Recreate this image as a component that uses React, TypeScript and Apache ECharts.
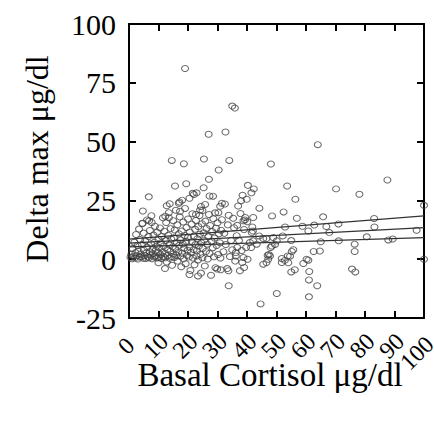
import React, { useEffect, useRef } from "react";
import * as echarts from "echarts";

const xTicks = [0, 10, 20, 30, 40, 50, 60, 70, 80, 90, 100];
const yTicks = [-25, 0, 25, 50, 75, 100];

// regression line and its two bands: [x, y] at both ends
const upperBand: [number, number][] = [[0, 8.5], [100, 18.4]];
const fitLine: [number, number][] = [[0, 6.8], [100, 13.4]];
const lowerBand: [number, number][] = [[0, 5.2], [100, 9.2]];

// sparse / outlying points
const sparsePoints: [number, number][] = [
  [19.0, 81.1], [35.0, 65.1], [35.9, 64.3], [27.0, 53.1], [32.7, 54.1], [64.0, 48.7],
  [14.5, 42.0], [18.6, 40.6], [25.4, 42.6], [34.0, 42.0], [48.1, 40.5], [30.4, 37.9],
  [87.6, 33.7], [19.4, 32.1], [25.3, 30.4], [27.1, 34.0], [15.6, 31.1], [40.3, 31.4],
  [42.3, 29.9], [41.5, 28.2], [53.6, 31.1], [70.2, 29.9], [78.1, 27.6], [27.3, 26.9],
  [21.6, 28.0], [20.5, 25.9], [6.7, 26.5], [13.8, 23.6], [17.1, 24.3], [18.0, 25.1],
  [32.5, 23.5], [38.5, 27.2], [38.0, 24.9], [37.0, 22.6], [39.9, 25.5], [56.4, 25.5],
  [100, 22.9], [44.2, 21.7], [52.4, 20.1], [4.7, 20.5], [24.4, 22.4], [24.9, 20.7],
  [56.9, 17.4], [48.5, 18.4], [65.8, 18.0], [83.1, 17.3], [83.2, 13.7], [71.0, 15.0],
  [58.8, 14.0], [60.8, 12.0], [62.8, 14.5], [66.9, 13.9], [67.9, 11.3], [52.9, 13.7],
  [42.1, 17.7], [41.8, 13.7], [97.5, 12.3], [80.6, 9.5], [87.9, 8.2], [89.4, 8.6],
  [71.1, 7.8], [55.0, 7.9], [65.0, 7.4], [76.5, 6.4], [76.5, 3.3], [62.6, 3.3],
  [64.7, 3.5], [60.8, -0.4], [60.2, 0.0], [75.6, -4.2], [76.7, -5.4], [61.1, -5.2],
  [61.0, -8.8], [63.8, -11.3], [61.0, -16.0], [50.1, -14.6], [44.6, -19.0], [33.8, -11.3],
  [55.0, -5.4], [56.2, -4.5], [59.1, -1.8], [51.8, -1.4], [51.8, 0.3], [52.8, -0.5],
  [54.0, -1.5], [54.6, 1.3], [47.0, 1.7], [47.4, 2.0], [47.8, 1.4], [45.5, -2.1],
  [48.0, 5.0], [48.4, 5.6], [49.5, 6.3], [53.8, 1.4], [55.2, 3.3], [55.7, 4.0],
  [100, 0], [38.4, -1.4], [39.0, -3.5], [40.2, 0], [29.9, -4.2], [31.1, -4.5],
  [33.3, -4.0], [37.6, -4.9], [33.7, -4.9], [20.5, -6.5], [23.4, -7.1], [12.2, -4.0],
];

// middle-density points
const midPoints: [number, number][] = [
  [30.3, 19.8], [31.5, 23.8], [33.8, 18.7], [31.2, 12.3], [35.6, 13.4], [36.7, 14.4],
  [38.8, 16.3], [39.4, 17.7], [39.3, 16.7], [40.1, 15.9], [39.7, 5.0], [43.3, 6.4],
  [44.1, 9.9], [41.4, 5.0], [41.6, 11.3], [42.0, 12.0], [36.7, 5.0], [35.0, 4.0],
  [36.2, 2.8], [36.2, 1.4], [45.5, 8.8], [46.6, 8.8], [48.9, 9.2], [50.1, 7.8],
  [52.1, 9.9], [41.0, 7.1], [42.1, 7.8], [38.8, 0.7], [46.6, -1.4], [47.2, 0.0],
  [32.0, 3.2], [32.3, 11.0], [32.8, 6.2], [33.5, 14.6], [34.2, 1.1], [34.6, 8.0],
  [35.3, 17.4], [36.0, -0.8], [36.5, 10.0], [37.3, 7.9], [37.8, 19.4], [38.2, 3.7],
  [39.0, 12.6], [31.0, 0.5], [31.5, 16.8],
];

// dense cluster at low cortisol
const clusterPoints: [number, number][] = [
  [0.5, 0.8], [0.8, 2.1], [1.0, 0.2], [1.2, 4.5], [1.5, 1.3], [1.8, 7.2], [2.0, 0.5],
  [2.2, 2.8], [2.4, 10.5], [2.6, 1.6], [2.9, 5.8], [3.0, 0.1], [3.2, 3.5], [3.4, 12.8],
  [3.6, 0.9], [3.8, 8.4], [4.0, 2.2], [4.2, 1.0], [4.4, 6.3], [4.6, 15.2], [4.8, 0.4],
  [5.0, 3.9], [5.0, 11.1], [5.3, 1.5], [5.5, 7.8], [5.7, 0.3], [5.9, 2.7], [6.1, 16.7],
  [6.2, 5.1], [6.4, 1.0], [6.6, 9.6], [6.8, 0.6], [7.0, 3.2], [7.1, 12.2], [7.3, 1.8],
  [7.5, 6.6], [7.6, 18.5], [7.8, 0.2], [8.0, 4.3], [8.1, 2.4], [8.3, 10.3], [8.5, 0.9],
  [8.6, 7.2], [8.8, 14.0], [9.0, 1.4], [9.1, 3.8], [9.3, 5.5], [9.5, 0.5], [9.6, 11.5],
  [9.8, 2.9], [10.0, 8.4], [10.0, -1.5], [10.2, 0.8], [10.3, 4.8], [10.5, 13.3],
  [10.7, 1.9], [10.8, 6.9], [11.0, 0.3], [11.1, 9.7], [11.3, 3.1], [11.5, 17.6],
  [11.6, 1.2], [11.8, 5.6], [12.0, 11.9], [12.1, 0.6], [12.3, 2.5], [12.5, 7.9],
  [12.6, 15.6], [12.8, -1.2], [13.0, 4.1], [13.1, 1.6], [13.3, 10.2], [13.5, 19.8],
  [13.6, 6.1], [13.8, 0.4], [14.0, 3.4], [14.1, 13.0], [14.3, 8.6], [14.5, 1.1],
  [14.6, -2.6], [14.8, 5.3], [15.0, 16.4], [15.0, 2.2], [15.2, 9.1], [15.4, 0.7],
  [15.5, 12.4], [15.7, 4.4], [15.9, 20.8], [16.0, 1.8], [16.2, 7.1], [16.4, 14.6],
  [16.5, -0.8], [16.7, 3.0], [16.9, 10.8], [17.0, 5.9], [17.2, 18.0], [17.4, 1.3],
  [17.5, 8.2], [17.7, -3.2], [17.9, 12.0], [18.0, 2.6], [18.2, 6.5], [18.4, 15.8],
  [18.5, 0.2], [18.7, 4.7], [18.9, 10.1], [19.0, 21.6], [19.2, -1.9], [19.4, 7.6],
  [19.5, 13.5], [19.7, 1.7], [19.9, 3.8], [20.0, 17.1], [20.0, 9.3], [20.3, 0.9],
  [20.5, 5.2], [20.6, 11.6], [20.8, -4.8], [21.0, 2.9], [21.2, 14.9], [21.3, 7.4],
  [21.5, 19.3], [21.7, 0.5], [21.9, 4.1], [22.0, 9.8], [22.2, -2.4], [22.4, 12.7],
  [22.5, 6.2], [22.7, 16.5], [22.9, 1.4], [23.0, 3.5], [23.2, 8.7], [23.4, -0.3],
  [23.5, 13.9], [23.7, 5.6], [23.9, 18.6], [24.0, 10.6], [24.2, 2.1], [24.4, -5.9],
  [24.5, 7.0], [24.7, 15.1], [24.9, 0.6], [25.0, 4.6], [25.3, 11.2], [25.5, 8.1],
  [25.7, -2.9], [25.9, 16.2], [26.1, 3.3], [26.3, 13.1], [26.5, 6.4], [26.7, 0.1],
  [26.9, 9.5], [27.1, 19.0], [27.3, 2.4], [27.5, 14.3], [27.8, -6.8], [28.0, 7.7],
  [28.2, 11.8], [28.4, 4.9], [28.6, 17.2], [28.8, 1.0], [29.0, 9.0], [29.3, -3.6],
  [29.5, 13.2], [29.7, 5.8], [30.0, 15.5], [30.2, 2.0], [30.5, 10.8], [30.8, 7.0],
  [12.8, 22.7], [16.9, 23.8], [22.0, 27.5], [22.9, 28.2], [28.5, 26.8], [25.8, 23.3],
  [29.2, 19.7], [30.9, 22.5], [12.3, 18.3], [13.5, 17.6], [17.3, 20.4], [22.7, 19.0],
  [24.1, 20.9], [7.7, 15.6], [6.8, 16.3], [4.5, 15.3],
];

const allPoints = [...sparsePoints, ...midPoints, ...clusterPoints];

const FONT = "'Liberation Serif', 'Times New Roman', serif";
const X_MAX_TICK = xTicks[xTicks.length - 1];

export default function App() {
  const ref = useRef<HTMLDivElement>(null);
  useEffect(() => {
    if (!ref.current) return;
    const chart = echarts.init(ref.current, undefined, { renderer: "svg" });
    const axisLine = { show: true, onZero: false, lineStyle: { color: "#000", width: 2 } };
    const axisTick = { show: true, inside: true, length: 7, lineStyle: { color: "#000", width: 2 } };
    const xLabelBase = {
      rotate: 45,
      align: "center",
      verticalAlign: "middle",
      margin: 25,
      hideOverlap: false,
      fontFamily: FONT,
      fontSize: 24,
      color: "#000",
    };
    const lineSeries = (data: [number, number][]) => ({
      type: "line",
      data,
      symbol: "none",
      xAxisIndex: 0,
      yAxisIndex: 0,
      lineStyle: { color: "#333", width: 1.3 },
      z: 5,
      silent: true,
    });
    chart.setOption({
      animation: false,
      backgroundColor: "#fff",
      grid: { left: 129, right: 10, top: 24, bottom: 107, containLabel: false, outerBoundsMode: "none" },
      xAxis: [
        {
          type: "value",
          min: 0,
          max: 100,
          interval: 10,
          position: "bottom",
          axisLine,
          axisTick,
          splitLine: { show: false },
          axisLabel: {
            ...xLabelBase,
            padding: [0, 8, 0, 0],
            showMinLabel: true,
            formatter: (v: number) => (xTicks.includes(v) && v !== X_MAX_TICK ? String(v) : ""),
          },
        },
        {
          type: "value",
          min: 0,
          max: 100,
          interval: 10,
          position: "bottom",
          axisLine: { show: false, onZero: false },
          axisTick: { show: false },
          splitLine: { show: false },
          axisLabel: {
            ...xLabelBase,
            margin: 28,
            padding: [0, 20, 20, 0],
            showMaxLabel: true,
            formatter: (v: number) => (v === X_MAX_TICK ? String(v) : ""),
          },
        },
        {
          type: "value",
          min: 0,
          max: 100,
          interval: 10,
          position: "top",
          axisLine,
          axisTick,
          splitLine: { show: false },
          axisLabel: { show: false },
        },
      ],
      yAxis: [
        {
          type: "value",
          min: -25,
          max: 100,
          interval: 25,
          position: "left",
          axisLine,
          axisTick,
          splitLine: { show: false },
          axisLabel: {
            margin: 13,
            fontFamily: FONT,
            fontSize: 30,
            color: "#000",
            formatter: (v: number) => (yTicks.includes(v) ? String(v) : ""),
          },
        },
        {
          type: "value",
          min: -25,
          max: 100,
          interval: 25,
          position: "right",
          axisLine,
          axisTick,
          splitLine: { show: false },
          axisLabel: { show: false },
        },
      ],
      graphic: [
        {
          type: "text",
          x: 270,
          y: 375,
          style: {
            text: "Basal Cortisol μg/dl",
            font: `33px ${FONT}`,
            fill: "#000",
            align: "center",
            verticalAlign: "middle",
          },
        },
        {
          type: "text",
          x: 37,
          y: 159,
          rotation: Math.PI / 2,
          style: {
            text: "Delta max μg/dl",
            font: `32px ${FONT}`,
            fill: "#000",
            align: "center",
            verticalAlign: "middle",
          },
        },
      ],
      series: [
        {
          type: "scatter",
          data: allPoints,
          symbol: "circle",
          symbolSize: [7, 6],
          clip: false,
          itemStyle: { color: "rgba(0,0,0,0)", borderColor: "#444", borderWidth: 1 },
          silent: true,
          z: 3,
        },
        lineSeries(upperBand),
        lineSeries(fitLine),
        lineSeries(lowerBand),
      ],
    });
    return () => chart.dispose();
  }, []);
  return (
    <div
      ref={ref}
      style={{ position: "absolute", left: 0, top: 0, width: 434, height: 425 }}
    />
  );
}
